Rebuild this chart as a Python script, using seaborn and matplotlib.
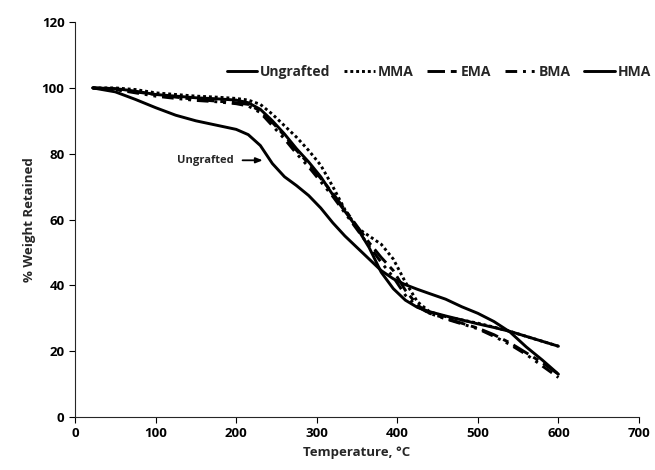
import pandas as pd
import numpy as np
import seaborn as sns
import matplotlib.pyplot as plt

# temperaturas (°C)
temp = [22, 50, 75, 100, 125, 150, 175, 200, 215, 230, 245, 260, 275, 290, 305, 320,
        335, 350, 365, 380, 395, 410, 425, 440, 460, 480, 500, 520, 540, 560, 580, 600]

ungrafted = [100, 98.8, 96.5, 94, 91.7, 90, 88.7, 87.4, 85.8, 82.5, 77, 73, 70.3, 67.3, 63.5, 59,
             55, 51.5, 48, 44.5, 42, 40.2, 38.8, 37.5, 35.8, 33.5, 31.5, 29, 25.8, 21.3, 17.3, 13]
mma = [100, 100, 99.5, 98.5, 98, 97.5, 97.2, 96.8, 96.3, 95, 92, 88.5, 85, 81, 76.5, 70,
       63, 57.5, 55, 52.5, 48, 41, 35, 32, 30.5, 29.5, 28.5, 27.3, 26, 24.5, 23, 21.5]
ema = [100, 99.5, 98.8, 98, 97.2, 96.5, 96, 95.5, 95, 93, 89.5, 85.5, 81, 77, 72.5, 68,
       63, 58, 53, 48.5, 44.5, 38.5, 34, 31.5, 30, 28.5, 27, 25, 22.5, 19.5, 16.5, 13]
bma = [100, 99.5, 98.5, 97.5, 96.8, 96.2, 95.8, 95.2, 94.5, 92.5, 88.5, 84.5, 80, 76, 71.5, 67,
       62, 57, 52, 47, 42.5, 37, 33.5, 31.5, 29.8, 28.3, 26.8, 24.5, 22, 19, 15.5, 12]
hma = [100, 99.8, 99, 98, 97.5, 97, 96.7, 96.3, 95.5, 93.5, 90, 86, 81.5, 77.5, 73, 67.5,
       62.5, 57.5, 51.5, 44, 39, 35.5, 33.3, 32, 30.7, 29.5, 28.3, 27.2, 26, 24.5, 23, 21.5]

series = ["Ungrafted", "MMA", "EMA", "BMA", "HMA"]
valores = [ungrafted, mma, ema, bma, hma]
estilos = ["-", (0, (1, 1)), (0, (6, 2, 2, 2)), (0, (4, 2, 1, 2, 1, 2)), "-"]

df = pd.DataFrame({"temp": temp * len(series),
                   "peso": np.concatenate(valores),
                   "amostra": np.repeat(series, len(temp))})

sns.set_style("ticks")
plt.rcParams['font.family'] = ['Open Sans', 'DejaVu Sans']
plt.rcParams['font.weight'] = 'bold'

fig, ax = plt.subplots(figsize=(6.55, 4.70), dpi=100)
fig.subplots_adjust(left=0.1145, right=0.9756, bottom=0.1128, top=0.953)

for nome, ls in zip(series, estilos):
    sns.lineplot(data=df[df["amostra"] == nome], x="temp", y="peso", ax=ax,
                 color="black", linewidth=2.1, linestyle=ls, label=nome)

ax.set_xlim(0, 700)
ax.set_ylim(0, 120)
ax.set_xticks(range(0, 701, 100))
ax.set_yticks(range(0, 121, 20))
ax.tick_params(labelsize=9.5, length=4, width=0.8, colors="black")
for lbl in ax.get_xticklabels() + ax.get_yticklabels():
    lbl.set_fontweight("bold")
sns.despine(ax=ax)
ax.spines["left"].set_linewidth(0.8)
ax.spines["bottom"].set_linewidth(0.8)

ax.set_xlabel("Temperature, °C", fontsize=9.5, fontweight="bold")
ax.set_ylabel("% Weight Retained", fontsize=9.5, fontweight="bold")

# seta indicando a curva sem enxerto
ax.annotate("Ungrafted", xy=(233, 78), xytext=(197, 78), fontsize=8, fontweight="bold",
            ha="right", va="center",
            arrowprops=dict(arrowstyle="-|>,head_length=0.5,head_width=0.2", color="black",
                            lw=1.3, shrinkA=4, shrinkB=0))

leg = ax.legend(loc="center", bbox_to_anchor=(0.645, 0.873), ncol=5, frameon=False,
                fontsize=10, handlelength=2.2, handletextpad=0.2, columnspacing=1.0)
for t in leg.get_texts():
    t.set_fontweight("bold")
for h in leg.get_lines():
    h.set_linewidth(2.1)

plt.savefig("out.png", dpi=100)
